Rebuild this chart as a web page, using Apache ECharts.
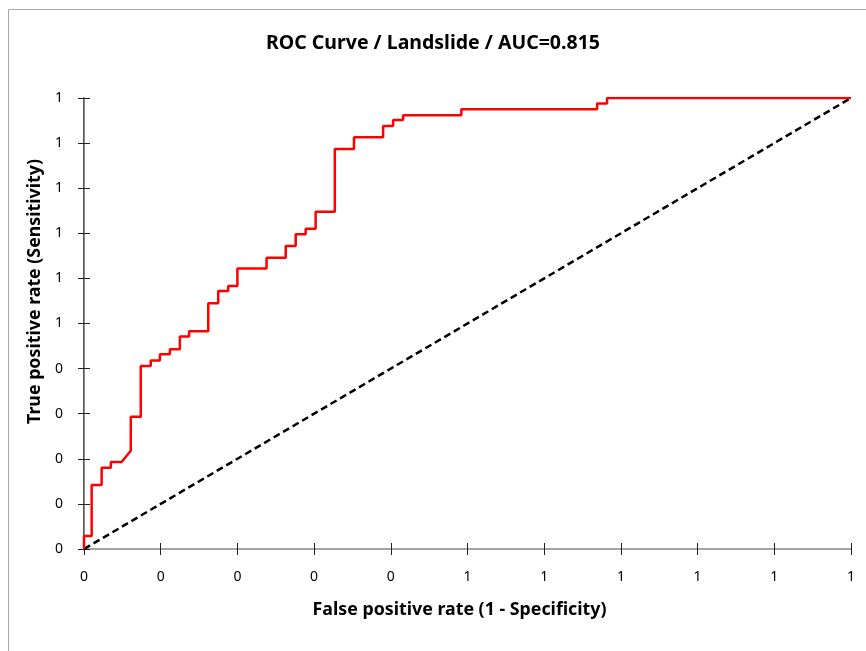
<!DOCTYPE html>
<html>
<head>
<meta charset="utf-8">
<script src="https://cdn.jsdelivr.net/npm/echarts@6/dist/echarts.min.js"></script>
<style>
  html, body { margin: 0; padding: 0; background: #fff; }
  #roc { width: 866px; height: 651px; }
</style>
</head>
<body>
<div id="roc"></div>
<script>
// ROC curve points (false positive rate, true positive rate)
var fpr = [0, 0, 0.010, 0.010, 0.023, 0.023, 0.035, 0.035, 0.049, 0.061, 0.061, 0.074, 0.074, 0.087, 0.087,
  0.099, 0.099, 0.112, 0.112, 0.125, 0.125, 0.137, 0.137, 0.162, 0.162, 0.175, 0.175, 0.188, 0.188,
  0.200, 0.200, 0.238, 0.238, 0.263, 0.263, 0.276, 0.276, 0.289, 0.289, 0.302, 0.302, 0.327, 0.327,
  0.352, 0.352, 0.390, 0.390, 0.403, 0.403, 0.416, 0.416, 0.492, 0.492, 0.669, 0.669, 0.682, 0.682, 1];
var tpr = [0, 0.029, 0.029, 0.142, 0.142, 0.180, 0.180, 0.193, 0.193, 0.218, 0.293, 0.293, 0.406, 0.406, 0.418,
  0.418, 0.432, 0.432, 0.443, 0.443, 0.471, 0.471, 0.483, 0.483, 0.545, 0.545, 0.572, 0.572, 0.583,
  0.583, 0.622, 0.622, 0.646, 0.646, 0.672, 0.672, 0.698, 0.698, 0.710, 0.710, 0.748, 0.748, 0.887,
  0.887, 0.913, 0.913, 0.938, 0.938, 0.951, 0.951, 0.962, 0.962, 0.975, 0.975, 0.988, 0.988, 1, 1];

// diagonal reference (random classifier)
var refX = [0, 1];
var refY = [0, 1];

// tick labels as printed (rounded to 0 decimals)
var xTickLabels = ['0', '0', '0', '0', '0', '1', '1', '1', '1', '1', '1'];
var yTickLabels = ['0', '0', '0', '0', '0', '1', '1', '1', '1', '1', '1'];

var rocData = [];
for (var i = 0; i < fpr.length; i++) {
  rocData.push([fpr[i], tpr[i]]);
}
var refData = [];
for (var j = 0; j < refX.length; j++) {
  refData.push([refX[j], refY[j]]);
}

var font = 'Noto Sans';
var axisColor = '#222';

function tickIdx(v) { return Math.round(v * 10); }

var myChart = echarts.init(document.getElementById('roc'));
var option = {
  animation: false,
  textStyle: { fontFamily: font },
  title: {
    text: 'ROC Curve / Landslide / AUC=0.815',
    left: 'center',
    top: 28,
    textStyle: { fontFamily: font, fontSize: 19.5, fontWeight: 'bold', color: '#000' }
  },
  graphic: [{
    type: 'rect',
    shape: { x: 8.5, y: 9.5, width: 900, height: 700 },
    style: { fill: 'none', stroke: '#a6a6a6', lineWidth: 1 },
    silent: true
  }],
  grid: { left: 84, right: 15, top: 98, bottom: 102 },
  xAxis: [{
    type: 'value', min: 0, max: 1, interval: 0.1, position: 'bottom',
    name: 'False positive rate (1 - Specificity)',
    nameLocation: 'middle', nameGap: 52,
    nameTextStyle: { fontFamily: font, fontSize: 17.8, fontWeight: 'bold', color: '#000', padding: [0, 16, 0, 0] },
    axisLine: { lineStyle: { color: axisColor, width: 1.5 } },
    axisTick: { show: true, length: 6, lineStyle: { color: axisColor } },
    axisLabel: {
      margin: 21, fontSize: 14, color: '#000',
      formatter: function (v) { return xTickLabels[tickIdx(v)]; }
    },
    splitLine: { show: false }
  }, {
    type: 'value', min: 0, max: 1, interval: 0.1, position: 'bottom',
    axisLine: { show: false },
    axisTick: { show: true, inside: true, length: 6, lineStyle: { color: axisColor } },
    axisLabel: { show: false },
    splitLine: { show: false }
  }, {
    type: 'value', min: 0, max: 1, position: 'top',
    axisLine: { show: true, lineStyle: { color: '#bfbfbf', width: 1.5 } },
    axisTick: { show: false },
    axisLabel: { show: false },
    splitLine: { show: false }
  }],
  yAxis: [{
    type: 'value', min: 0, max: 1, interval: 0.1, position: 'left',
    name: 'True positive rate (Sensitivity)',
    nameLocation: 'middle', nameGap: 36,
    nameTextStyle: { fontFamily: font, fontSize: 17.8, fontWeight: 'bold', color: '#000', padding: [0, 0, 0, 64] },
    axisLine: { show: true, lineStyle: { color: axisColor, width: 1.5 } },
    axisTick: { show: true, length: 6, lineStyle: { color: axisColor } },
    axisLabel: {
      margin: 21, fontSize: 14, color: '#000',
      formatter: function (v) { return yTickLabels[tickIdx(v)]; }
    },
    splitLine: { show: false }
  }, {
    type: 'value', min: 0, max: 1, interval: 0.1, position: 'left',
    axisLine: { show: false },
    axisTick: { show: true, inside: true, length: 6, lineStyle: { color: axisColor } },
    axisLabel: { show: false },
    splitLine: { show: false }
  }, {
    type: 'value', min: 0, max: 1, position: 'right',
    axisLine: { show: true, lineStyle: { color: '#8c8c8c', width: 1 } },
    axisTick: { show: false },
    axisLabel: { show: false },
    splitLine: { show: false }
  }],
  series: [{
    name: 'reference',
    type: 'line',
    data: refData,
    showSymbol: false,
    lineStyle: { color: '#000', width: 2.5, type: [7, 4] },
    z: 3
  }, {
    name: 'ROC',
    type: 'line',
    data: rocData,
    showSymbol: false,
    lineStyle: { color: '#ff0000', width: 2.5 },
    z: 4
  }]
};
myChart.setOption(option);
</script>
</body>
</html>
